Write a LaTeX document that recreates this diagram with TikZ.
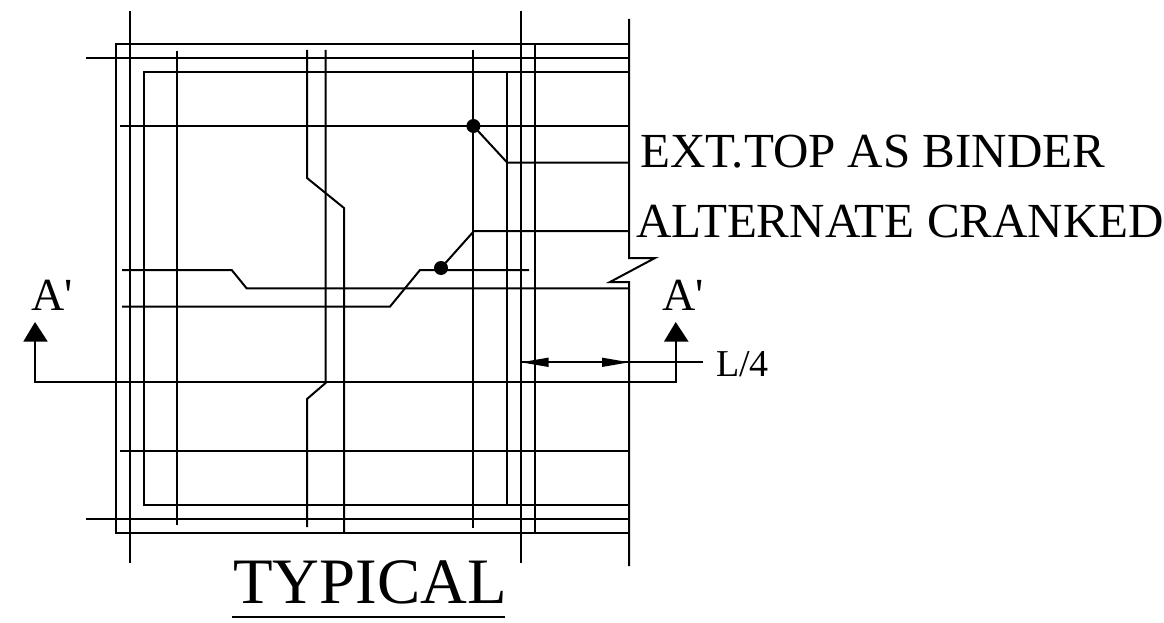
\documentclass[tikz,border=0pt]{standalone}
\usepackage{fontspec}
\newfontfamily\dfont{Liberation Serif}
\tikzset{
  bar/.style={line width=2pt,line cap=butt,line join=miter,black},
  dotmark/.style={circle,fill=black,inner sep=0pt,minimum size=14pt},
  lbl/.style={anchor=base west,inner sep=0pt,font=\dfont},
  headfill/.style={fill=black,draw=none}
}
\begin{document}
\begin{tikzpicture}[x=1pt,y=-1pt]
\useasboundingbox (0,0) rectangle (1164,623);
% stirrups
\draw[bar] (629,44) -- (116,44) -- (116,533) -- (629,533);
\draw[bar] (629,72) -- (144,72) -- (144,505) -- (629,505);
\draw[bar] (507.3,72) -- (507.3,505);
\draw[bar] (535.3,44) -- (535.3,533);
% long verticals
\draw[bar] (130,11) -- (130,563);
\draw[bar] (521,11) -- (521,563);
\draw[bar] (177.4,51) -- (177.4,525);
\draw[bar] (473.4,50) -- (473.4,528);
% cranked verticals
\draw[bar] (307,50) -- (307,178) -- (344,208) -- (344,533);
\draw[bar] (325.6,50) -- (325.6,383) -- (307,399) -- (307,527);
% right edge with break
\draw[bar] (629,19) -- (629,258) -- (655,258) -- (610,282) -- (629,282) -- (629,566);
% horizontals
\draw[bar] (86,58) -- (629,58);
\draw[bar] (120,126) -- (629,126);
\draw[bar] (120,451) -- (629,451);
\draw[bar] (86,519.3) -- (629,519.3);
% dots and cranked bars
\node[dotmark] (dotA) at (473.4,126) {};
\node[dotmark] (dotB) at (441,268) {};
\coordinate (endA) at (629,162.7);
\coordinate (endB) at (629,231);
\draw[bar] (dotA.center) -- (507.3,162.7) -- (endA);
\draw[bar] (dotB.center) -- (474,231) -- (endB);
\draw[bar] (122,270) -- (231.7,270) -- (246.7,288.4) -- (629,288.4);
\draw[bar] (122,306.6) -- (390,306.6) -- (420,270) -- (529,270);
% section line
\draw[bar] (35,341) -- (35,382) -- (675.7,382) -- (675.7,341);
\fill[headfill] (35,322) -- (47.7,341.5) -- (23.3,341.5) -- cycle;
\fill[headfill] (675.7,322) -- (688.5,341.5) -- (664,341.5) -- cycle;
% dimension
\draw[bar] (521,362.3) -- (703,362.3);
\fill[headfill] (521,362.3) -- (548.5,357.6) -- (548.5,367) -- cycle;
\fill[headfill] (629,362.3) -- (602,357.6) -- (602,367) -- cycle;
% labels
\node[lbl,font=\dfont\fontsize{49}{49}\selectfont] (t1) at (640,167) {EXT.TOP AS BINDER};
\node[lbl,font=\dfont\fontsize{49}{49}\selectfont] (t2) at (636,237) {ALTERNATE CRANKED};
\node[lbl,font=\dfont\fontsize{46}{49}\selectfont] (s1) at (31,310) {A'};
\node[lbl,font=\dfont\fontsize{46}{49}\selectfont] (s2) at (662,310) {A'};
\node[lbl,font=\dfont\fontsize{38}{38}\selectfont] (l4) at (716,376) {L/4};
\node[lbl,font=\dfont\fontsize{64.8}{67}\selectfont] (ty) at (233,603) {TYPICAL};
\draw[line width=2.2pt] (232,617) -- (505,617);
\end{tikzpicture}
\end{document}
